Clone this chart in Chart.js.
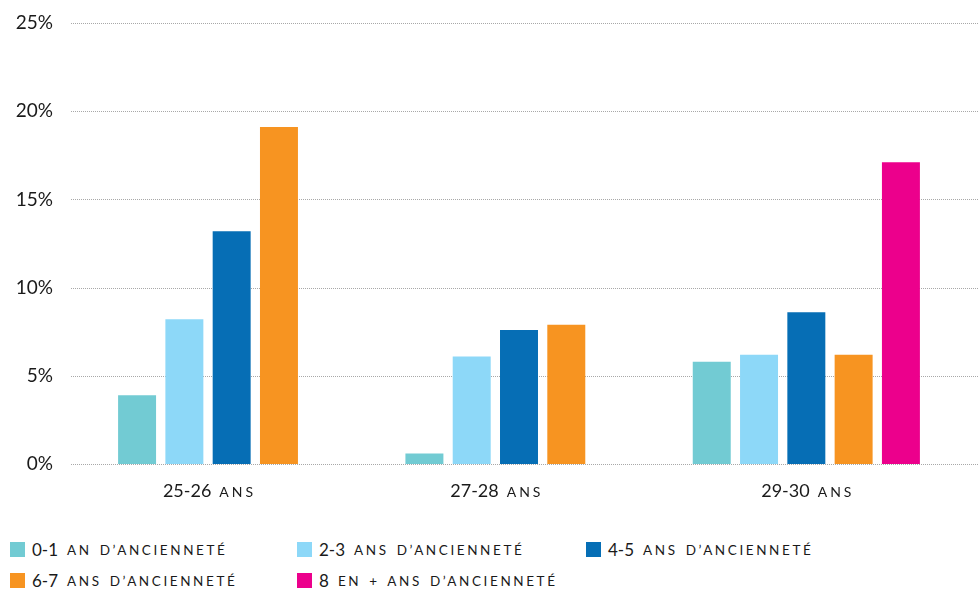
<!DOCTYPE html>
<html lang="fr">
<head>
<meta charset="utf-8">
<script src="https://cdn.jsdelivr.net/npm/chart.js@4/dist/chart.umd.min.js"></script>
<style>
  html, body { margin: 0; padding: 0; background: #fff; }
  body { width: 979px; height: 590px; position: relative; overflow: hidden; font-family: Lato, "Open Sans", sans-serif; color: #1a1a1a; }
  #wrap { position: absolute; left: 0; top: 0; width: 979px; height: 530px; }
  #legend { position: absolute; left: 10px; top: 534px; display: grid; grid-template-columns: 287px 289px 300px; grid-auto-rows: 31px; }
  .item { display: flex; align-items: center; white-space: nowrap; }
  .box { width: 15px; height: 15px; margin-right: 7px; flex: none; }
  .num { font-size: 17px; }
  .sc { font-size: 13.5px; text-transform: uppercase; letter-spacing: 2.6px; word-spacing: 2px; margin-left: 9px; }
</style>
</head>
<body>
<div id="wrap"><canvas id="chart"></canvas></div>
<div id="legend"></div>
<script>
// Age groups on the x axis
const categories = ['25-26 ans', '27-28 ans', '29-30 ans'];

// Seniority bands (one series each) and their colours
const seriesNames = [
  '0-1 an d’ancienneté',
  '2-3 ans d’ancienneté',
  '4-5 ans d’ancienneté',
  '6-7 ans d’ancienneté',
  '8 en + ans d’ancienneté'
];
const seriesColors = ['#72CBD3', '#8DD8F8', '#066EB5', '#F79421', '#EC008C'];

// Share per age group, in %
const anc01 = [3.9, 0.6, 5.8];
const anc23 = [8.2, 6.1, 6.2];
const anc45 = [13.2, 7.6, 8.6];
const anc67 = [19.1, 7.9, 6.2];
const anc8p = [null, null, 17.1];

// y axis ticks
const yTicks = [0, 5, 10, 15, 20, 25];

const seriesValues = [anc01, anc23, anc45, anc67, anc8p];
const FONT = 'Lato, "Open Sans", sans-serif';
const GRID = '#a8a8a8';
const INK = '#1a1a1a';

// Splits "25-26 ans" into its figure and the small-capital words after it
function splitLabel(text) {
  const k = text.indexOf(' ');
  return [text.slice(0, k), text.slice(k + 1)];
}

// Dotted horizontal guides at each y tick, running a little past the plot on both sides
const dottedGuides = {
  id: 'dottedGuides',
  beforeDatasetsDraw(chart) {
    const ctx = chart.ctx;
    const ys = chart.scales.y;
    const x1 = chart.chartArea.left - 17;
    const x2 = chart.width;
    ctx.save();
    ctx.strokeStyle = GRID;
    ctx.lineWidth = 1;
    ctx.setLineDash([1, 1]);
    ys.ticks.forEach(t => {
      const y = Math.round(ys.getPixelForValue(t.value)) + 0.5;
      ctx.beginPath();
      ctx.moveTo(x1, y);
      ctx.lineTo(x2, y);
      ctx.stroke();
    });
    ctx.restore();
  }
};

// Category labels centred under the bars actually present in each group
const groupLabels = {
  id: 'groupLabels',
  afterDraw(chart) {
    const ctx = chart.ctx;
    const numFont = '18px ' + FONT;
    const scFont = '14px ' + FONT;
    const spacing = 3;
    const gap = 8;
    ctx.save();
    ctx.fillStyle = INK;
    ctx.textAlign = 'left';
    ctx.textBaseline = 'alphabetic';
    const y = chart.chartArea.bottom + 33;
    categories.forEach((label, i) => {
      let lo = Infinity, hi = -Infinity;
      chart.data.datasets.forEach((ds, d) => {
        if (ds.data[i] == null) return;
        const el = chart.getDatasetMeta(d).data[i];
        lo = Math.min(lo, el.x);
        hi = Math.max(hi, el.x);
      });
      const [num, words] = splitLabel(label);
      const caps = words.toUpperCase();
      ctx.font = numFont;
      ctx.letterSpacing = '0px';
      const wNum = ctx.measureText(num).width;
      ctx.font = scFont;
      ctx.letterSpacing = spacing + 'px';
      const wCaps = ctx.measureText(caps).width - spacing;
      const x0 = (lo + hi) / 2 - (wNum + gap + wCaps) / 2;
      ctx.font = numFont;
      ctx.letterSpacing = '0px';
      ctx.fillText(num, x0, y);
      ctx.font = scFont;
      ctx.letterSpacing = spacing + 'px';
      ctx.fillText(caps, x0 + wNum + gap, y);
    });
    ctx.restore();
  }
};

new Chart(document.getElementById('chart'), {
  type: 'bar',
  data: {
    labels: categories,
    datasets: seriesValues.map((vals, i) => ({
      label: seriesNames[i],
      data: vals,
      backgroundColor: seriesColors[i],
      borderWidth: 0,
      categoryPercentage: 0.823,
      barPercentage: 0.803
    }))
  },
  options: {
    responsive: true,
    maintainAspectRatio: false,
    animation: false,
    layout: { padding: { top: 23, left: 0, right: 29, bottom: 0 } },
    plugins: { legend: { display: false }, tooltip: { enabled: false } },
    scales: {
      x: {
        grid: { display: false },
        border: { display: false },
        ticks: { display: false },
        afterFit(scale) { scale.height = 66; }
      },
      y: {
        min: 0, max: 25,
        afterBuildTicks(scale) { scale.ticks = yTicks.map(v => ({ value: v })); },
        grid: { display: false, drawTicks: false },
        border: { display: false },
        ticks: {
          padding: 35,
          color: INK,
          font: { family: FONT, size: 19 },
          callback: v => v + '%'
        },
        afterFit(scale) {
          scale.width = 88;
          scale.paddingTop = 10;
        }
      }
    }
  },
  plugins: [dottedGuides, groupLabels]
});

// Legend laid out in three equal columns
const legend = document.getElementById('legend');
seriesNames.forEach((name, i) => {
  const [num, words] = splitLabel(name);
  const item = document.createElement('div');
  item.className = 'item';
  const box = document.createElement('span');
  box.className = 'box';
  box.style.background = seriesColors[i];
  const n = document.createElement('span');
  n.className = 'num';
  n.textContent = num;
  const w = document.createElement('span');
  w.className = 'sc';
  w.textContent = words;
  item.append(box, n, w);
  legend.appendChild(item);
});
</script>
</body>
</html>
